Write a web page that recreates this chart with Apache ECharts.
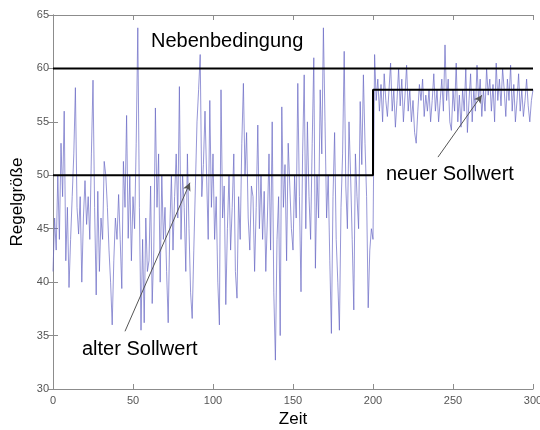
<!DOCTYPE html>
<html>
<head>
<meta charset="utf-8">
<script src="https://cdn.jsdelivr.net/npm/echarts@6/dist/echarts.min.js"></script>
<style>
  html, body { margin: 0; padding: 0; background: #fff; }
  #chart { width: 540px; height: 430px; }
</style>
</head>
<body>
<div id="chart"></div>
<script>
// Regelgröße über Zeit (k = 0..300)
const regelgroesse = [
  41, 46, 43, 50, 44, 53, 48, 56, 42, 47,
  39.5, 44, 48, 52, 58.2, 47, 44.5, 48, 40, 46,
  49.5, 45.4, 48, 44, 52, 58.9, 47, 38.8, 48.5, 41,
  46, 44, 51.3, 50, 47, 43, 40, 36, 42, 46,
  44, 48.2, 44, 39.4, 51.3, 47, 55.6, 44.1, 50, 42,
  48, 45, 53, 63.8, 47, 35.5, 44, 36.2, 46, 41,
  42, 49, 38, 43, 56.3, 47, 52, 40, 50, 44,
  47, 41, 36.2, 45, 50, 43, 48, 52, 46, 58.3,
  44, 50, 47, 41, 52, 45, 39, 36.6, 43, 49,
  55, 58, 61.3, 48, 51, 56, 50, 44, 57, 47,
  52, 44, 48, 40, 36, 58, 46, 49, 37.9, 45,
  50, 43, 47, 52, 41, 38.5, 48, 44, 53, 58.6,
  50, 54, 46, 43, 49, 48, 41, 47, 54.7, 45,
  50, 44, 48.5, 41, 46, 52, 43, 55, 39, 32.7,
  44, 48, 35, 56.4, 47, 51, 42, 53, 49, 45,
  43, 50, 46, 58.6, 48, 39.1, 52, 59.4, 45, 55,
  48, 44, 53, 61, 41.3, 50, 46, 58, 52, 63.8,
  55, 46, 50, 42, 35.2, 48, 54, 44, 40, 35.5,
  47, 52, 61.6, 49, 45, 55, 50, 44, 37.4, 52,
  48, 45, 56.9, 51, 59.4, 53, 48, 37.6, 43, 45,
  44, 61.3, 57, 59, 56, 58.5, 55, 59.5, 57, 55.5,
  58, 60.5, 56, 58, 54.5, 57, 60, 56.5, 59, 55,
  57.5, 60.3, 56, 58, 55, 57, 54, 53, 56, 58.5,
  57, 59, 55.5, 57.5, 56, 58, 55, 57, 59.5, 56,
  58, 55, 57, 59, 56, 62.2, 57, 59, 55, 54.2,
  58, 56, 60.5, 55, 57.5, 54.5, 58, 56, 60, 54,
  57, 59.5, 55, 58, 56, 60.3, 57, 59, 55.5, 58,
  56, 60, 57.5, 59, 56, 58.5, 55, 60.5, 57, 59,
  56.5, 60, 58, 55.5, 59, 57, 60.3, 56, 58.5, 55,
  57, 59.5, 56, 58, 55.5, 57, 59, 56.5, 55, 57,
  58
];

// Sollwert-Sprung und Nebenbedingung
const sollwert = [[0, 50], [200, 50], [200, 58], [300, 58]];
const nebenbedingung = [[0, 60], [300, 60]];

// Pfeile: [von, nach] in Datenkoordinaten
const pfeilAlt = [[45, 35.4], [85.6, 49.3]];
const pfeilNeu = [[240.6, 51.7], [268, 57.5]];

const xTicks = { min: 0, max: 300, interval: 50 };
const yTicks = { min: 30, max: 65, interval: 5 };

const chart = echarts.init(document.getElementById("chart"));

const axisGray = "#8c8c8c";
const labelGray = "#555";

function baseAxis(extra) {
  return Object.assign({
    type: "value",
    axisLine: { show: true, lineStyle: { color: axisGray, width: 1 } },
    axisTick: { show: true, inside: true, length: 5, lineStyle: { color: axisGray } },
    splitLine: { show: false }
  }, extra);
}

const option = {
  animation: false,
  backgroundColor: "#fff",
  grid: { left: 53, right: 7, top: 15, bottom: 41, outerBoundsMode: "none" },
  xAxis: [
    baseAxis({
      position: "bottom",
      min: xTicks.min, max: xTicks.max, interval: xTicks.interval,
      axisLabel: { color: labelGray, fontSize: 11, fontFamily: "Liberation Sans", margin: 6 },
      name: "Zeit",
      nameLocation: "middle",
      nameGap: 19,
      nameTextStyle: { color: "#000", fontSize: 17, fontFamily: "Liberation Sans" }
    }),
    baseAxis({
      position: "top",
      min: xTicks.min, max: xTicks.max, interval: xTicks.interval,
      axisLabel: { show: false }
    })
  ],
  yAxis: [
    baseAxis({
      position: "left",
      min: yTicks.min, max: yTicks.max, interval: yTicks.interval,
      axisLabel: { color: labelGray, fontSize: 11, fontFamily: "Liberation Sans", margin: 4 },
      name: "Regelgröße",
      nameLocation: "middle",
      nameGap: 26,
      nameTextStyle: { color: "#000", fontSize: 17, fontFamily: "Liberation Sans" }
    }),
    baseAxis({
      position: "right",
      min: yTicks.min, max: yTicks.max, interval: yTicks.interval,
      axisLabel: { show: false }
    })
  ],
  series: [
    {
      name: "Regelgröße",
      type: "line",
      data: regelgroesse.map((v, i) => [i, v]),
      showSymbol: false,
      lineStyle: { color: "#6a6ac4", width: 1, opacity: 0.7 },
      z: 2
    },
    {
      name: "Nebenbedingung",
      type: "line",
      data: nebenbedingung,
      showSymbol: false,
      lineStyle: { color: "#000", width: 2 },
      z: 3
    },
    {
      name: "Sollwert",
      type: "line",
      data: sollwert,
      showSymbol: false,
      lineStyle: { color: "#000", width: 2 },
      z: 3,
      markLine: {
        silent: true,
        symbol: ["none", "arrow"],
        symbolSize: [6, 8],
        label: { show: false },
        lineStyle: { color: "#555", width: 1, type: "solid" },
        data: [
          [{ coord: pfeilAlt[0] }, { coord: pfeilAlt[1] }],
          [{ coord: pfeilNeu[0] }, { coord: pfeilNeu[1] }]
        ]
      }
    }
  ],
  graphic: [
    { type: "text", left: 151, top: 31, style: { text: "Nebenbedingung", fontSize: 20, fontFamily: "Liberation Sans", fill: "#000" } },
    { type: "text", left: 386, top: 164, style: { text: "neuer Sollwert", fontSize: 20, fontFamily: "Liberation Sans", fill: "#000" } },
    { type: "text", left: 82, top: 339, style: { text: "alter Sollwert", fontSize: 20, fontFamily: "Liberation Sans", fill: "#000" } }
  ]
};

chart.setOption(option);
</script>
</body>
</html>
